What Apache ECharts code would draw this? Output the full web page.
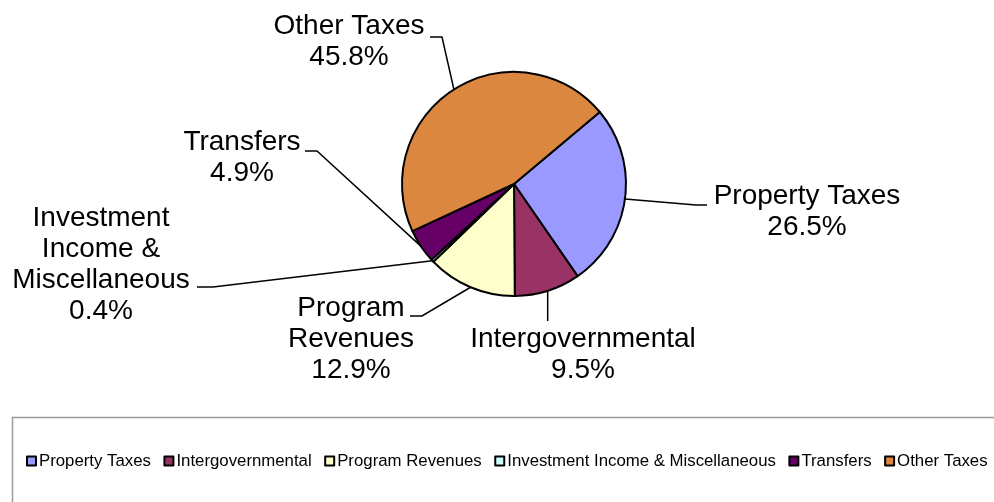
<!DOCTYPE html>
<html>
<head>
<meta charset="utf-8">
<script src="https://cdn.jsdelivr.net/npm/echarts@6/dist/echarts.min.js"></script>
<style>
  html, body { margin: 0; padding: 0; background: #ffffff; }
  #chart { width: 994px; height: 502px; }
</style>
</head>
<body>
<div id="chart"></div>
<script>
// Revenue sources and their share of the total (percent)
const categories = [
  'Property Taxes',
  'Intergovernmental',
  'Program Revenues',
  'Investment Income & Miscellaneous',
  'Transfers',
  'Other Taxes'
];
const labelNames = [
  'Property Taxes',
  'Intergovernmental',
  'Program\nRevenues',
  'Investment\nIncome &\nMiscellaneous',
  'Transfers',
  'Other Taxes'
];
const shares = [26.5, 9.5, 12.9, 0.4, 4.9, 45.8];
const colors = ['#9999FF', '#993366', '#FFFFCC', '#CCFFFF', '#660066', '#DC873F'];

// Where each slice label sits, and the bend / end of its leader line
const labelSpots = [
  { at: [807, 212], elbow: [696, 205], end: [707, 205] },
  { at: [583, 355], elbow: null,        end: [548, 321] },
  { at: [351, 339], elbow: [422, 316], end: [410, 316] },
  { at: [101, 265], elbow: [213, 287], end: [197, 287] },
  { at: [242, 158], elbow: [317, 151], end: [305, 151] },
  { at: [349, 42],  elbow: [442, 37],  end: [430, 37] }
];

const FONT = '"Liberation Sans", Arial, sans-serif';

const chart = echarts.init(document.getElementById('chart'), null, { renderer: 'canvas' });

chart.setOption({
  animation: false,
  backgroundColor: '#ffffff',
  color: colors,
  graphic: [{
    type: 'rect',
    shape: { x: 12.5, y: 417.5, width: 1000, height: 120 },
    style: { fill: 'none', stroke: '#9c9c9c', lineWidth: 1.5 },
    silent: true,
    z: 0
  }],
  legend: {
    data: categories,
    left: 26,
    top: 452,
    padding: 0,
    orient: 'horizontal',
    icon: 'rect',
    itemWidth: 9,
    itemHeight: 9,
    itemGap: 12.5,
    selectedMode: false,
    itemStyle: { borderColor: '#000000', borderWidth: 2 },
    textStyle: { fontFamily: FONT, fontSize: 16.8, color: '#000000', lineHeight: 18, padding: [0, 0, 0, -2] }
  },
  series: [{
    type: 'pie',
    center: [514, 184],
    radius: 112,
    startAngle: 40,
    clockwise: true,
    avoidLabelOverlap: false,
    silent: true,
    itemStyle: { borderColor: '#000000', borderWidth: 2 },
    label: {
      show: true,
      position: 'outside',
      fontFamily: FONT,
      fontSize: 28,
      lineHeight: 31,
      color: '#000000',
      align: 'center',
      formatter: function (p) {
        return labelNames[p.dataIndex] + '\n' + shares[p.dataIndex].toFixed(1) + '%';
      }
    },
    labelLine: {
      show: true,
      length: 10,
      length2: 10,
      smooth: false,
      lineStyle: { color: '#000000', width: 1.5 }
    },
    labelLayout: function (params) {
      const spot = labelSpots[params.dataIndex];
      const out = { x: spot.at[0], y: spot.at[1], align: 'center', verticalAlign: 'middle' };
      if (params.labelLinePoints && params.labelLinePoints.length) {
        const start = params.labelLinePoints[0];
        out.labelLinePoints = spot.elbow
          ? [start.slice(), spot.elbow.slice(), spot.end.slice()]
          : [start.slice(), [start[0], spot.end[1]], [start[0], spot.end[1]]];
      }
      return out;
    },
    data: categories.map(function (name, i) {
      return { name: name, value: shares[i] };
    })
  }]
});
</script>
</body>
</html>
